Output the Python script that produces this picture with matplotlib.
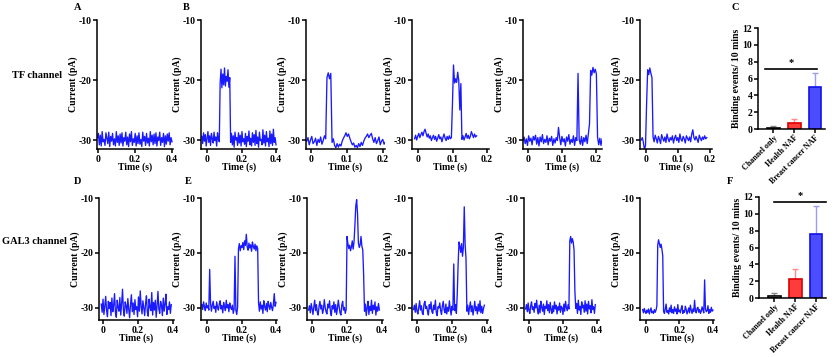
import numpy as np
import matplotlib.pyplot as plt

plt.rcParams['font.family'] = ['Liberation Serif', 'DejaVu Serif']
plt.rcParams['font.weight'] = 'bold'
plt.rcParams['axes.labelweight'] = 'bold'
plt.rcParams['axes.unicode_minus'] = False

# ---- current traces (pA), evenly sampled between t_start and t_end ----
# TF channel
trace_A = [-29.6, -28.9, -30.8, -29.2, -31.0, -28.6, -30.3, -29.9, -30.9, -28.8,
           -29.7, -30.6, -28.7, -31.1, -29.4, -30.2, -28.9, -30.8, -29.8, -31.0,
           -28.6, -30.4, -29.3, -30.9, -29.0, -30.5, -28.8, -31.0, -29.6, -30.2,
           -28.7, -30.8, -29.5, -31.1, -29.0, -30.3, -28.6, -30.9, -29.8, -30.4,
           -28.9, -31.0, -29.3, -30.6, -28.8, -30.7, -29.9, -31.1, -28.7, -30.2,
           -29.4, -30.9, -28.9, -30.5, -29.7, -31.0, -28.6, -30.3, -29.2, -30.8,
           -29.0, -30.6, -28.8, -31.0, -29.5, -30.1, -28.7, -30.9, -29.6, -30.4,
           -28.9, -31.1, -29.3, -30.7, -29.0, -30.2, -28.8, -30.8, -29.6, -30.3]
trace_B1 = [-29.4, -30.6, -28.8, -30.2, -29.1, -31.0, -29.7, -28.6, -30.4, -29.3,
            -30.9, -28.9, -29.8, -30.5, -28.7, -30.1, -29.5, -31.0, -28.8, -29.9, -30.3,
            -20.5, -18.2, -21.3, -19.0, -20.8, -18.0, -21.0, -19.4, -20.2, -18.3, -21.2, -19.6,
            -30.4, -28.9, -30.8, -29.3, -31.2, -28.7, -30.0, -29.6, -30.9, -28.8,
            -30.5, -29.2, -31.0, -28.6, -30.3, -29.8, -30.7, -28.9, -31.1, -29.4,
            -30.2, -28.5, -30.8, -29.7, -31.0, -28.8, -30.4, -29.1, -30.9, -28.4,
            -30.6, -29.5, -31.2, -28.7, -30.1, -29.9, -30.8, -28.3, -30.5, -29.2,
            -31.0, -28.6, -30.3, -29.7, -31.1, -28.5, -30.6, -29.0, -30.9, -28.2,
            -30.4, -29.6, -30.8]
trace_B2 = [-30.2, -29.6, -30.8, -30.0, -29.4, -30.6, -30.3, -29.7, -30.9, -29.9,
            -30.4, -29.5, -30.7, -30.1, -29.3, -29.8,
            -19.6, -18.8, -19.8, -18.9,
            -30.4, -29.8, -30.9, -31.3, -30.6, -31.2, -30.7, -31.0, -30.2, -29.7,
            -29.3, -28.8, -29.4, -29.0, -29.7, -30.3, -30.8, -30.5, -31.2, -30.9,
            -31.3, -30.6, -31.1, -30.4, -30.9, -30.2, -29.7, -29.4, -29.0, -29.6,
            -29.2, -28.9, -29.8, -30.4, -29.6, -30.6, -30.1, -29.5, -30.8, -30.2,
            -29.9, -30.7, -30.3, -30.6]
trace_B3 = [-29.8, -29.2, -30.0, -29.4, -28.9, -29.6, -29.1, -28.7, -29.3, -28.6,
            -28.2, -28.9, -29.5, -29.0, -29.7, -29.3, -30.1, -29.6, -29.2, -29.9,
            -29.4, -30.2, -29.7, -29.1, -29.8, -29.5, -30.3, -29.6, -29.0, -29.7,
            -30.1, -29.4, -29.9, -29.3, -29.8, -29.6,
            -24.0, -17.5, -20.5, -19.8, -20.4, -18.7, -20.1, -25.0, -20.6,
            -29.9, -29.3, -30.0, -29.5, -28.9, -29.7, -29.2, -29.8, -29.4, -28.6,
            -29.1, -29.6, -29.0, -29.5, -29.3]
trace_B4 = [-30.1, -29.5, -30.6, -29.8, -30.9, -29.3, -30.2, -29.7, -30.8, -29.4,
            -30.0, -29.2, -30.7, -29.6, -31.0, -29.5, -30.3, -29.1, -30.6, -29.9,
            -30.4, -29.3, -30.8, -29.7, -30.2, -29.4, -30.9, -29.8, -30.5, -29.6,
            -30.1, -27.9,
            -29.6, -30.8, -29.4, -30.3, -29.8, -31.0, -29.5, -30.2, -29.1, -30.7,
            -29.9, -30.4, -29.3, -30.9, -29.6, -30.1, -18.9,
            -29.9, -30.7, -29.4, -30.9, -29.6, -30.3, -29.2, -30.6, -29.0, -27.3,
            -18.4, -19.2, -17.9, -18.8, -18.2, -19.0,
            -29.5, -30.8, -29.7, -30.9, -29.8]
trace_B5 = [-30.0, -29.6, -30.4, -31.6, -30.9, -24.0,
            -18.3, -19.1, -18.0, -18.9, -19.6,
            -29.5, -30.3, -29.2, -29.8, -30.5, -29.4, -29.9, -30.6, -29.1, -29.7,
            -30.2, -29.5, -30.4, -29.0, -29.8, -30.3, -29.6, -30.0, -29.3, -30.5,
            -29.7, -29.2, -30.1, -29.6, -30.4, -29.0, -29.9, -30.2, -29.4, -29.8,
            -30.5, -29.3, -29.7, -30.1, -29.5, -30.3, -29.0, -28.3, -29.6, -30.0,
            -29.4, -29.9, -30.4, -29.2, -29.7, -30.1, -29.5, -29.9, -29.3, -29.8, -29.6]

# GAL3 channel
trace_D = [-29.3, -30.8, -28.4, -31.2, -29.7, -27.9, -30.5, -31.6, -28.8, -30.1,
           -29.0, -31.4, -28.2, -30.7, -29.5, -27.4, -30.9, -31.7, -28.6, -29.9,
           -30.6, -28.1, -31.3, -29.2, -26.6, -30.4, -31.5, -28.9, -29.6, -31.0,
           -28.3, -30.2, -31.8, -29.4, -27.6, -30.7, -29.1, -31.2, -28.5, -30.3,
           -29.8, -31.6, -28.0, -30.6, -26.9, -29.7, -31.1, -28.7, -30.0, -31.4,
           -29.2, -27.8, -30.8, -31.5, -28.4, -29.9, -30.5, -27.2, -31.3, -29.0,
           -30.4, -28.6, -31.7, -29.6, -27.0, -30.2, -31.0, -28.8, -29.5, -31.4,
           -28.2, -30.6, -29.3, -27.5, -31.2, -29.8, -30.3, -28.9, -31.0, -29.4]
trace_E1 = [-29.4, -30.3, -28.9, -29.8, -30.5, -29.1, -30.0, -29.6, -30.4, -23.0,
            -29.2, -30.6, -29.5, -28.8, -30.1, -29.7, -30.8, -28.9, -29.9, -30.4,
            -29.3, -28.7, -30.2, -29.6, -30.9, -29.0, -29.8, -30.5, -28.6, -30.0,
            -29.4, -30.7, -29.1, -29.9, -30.3, -29.5, -31.0, -30.2, -20.6,
            -30.4, -31.2, -29.8,
            -19.2, -18.3, -19.6, -18.7, -19.0, -18.1, -19.4, -17.8, -18.6, -16.6,
            -18.9, -19.5, -18.2, -19.1, -18.5, -19.7, -18.0, -18.8, -19.3, -18.4,
            -19.6, -18.7, -19.2,
            -29.1, -30.6, -28.9, -30.2, -29.5, -31.0, -28.7, -29.8, -30.4, -29.2,
            -30.7, -28.8, -29.6, -30.3, -29.0, -29.9, -30.5, -29.3, -27.4, -29.7, -29.0]
trace_E2 = [-30.4, -29.6, -30.9, -29.2, -30.1, -31.2, -29.8, -28.6, -30.5, -29.4,
            -30.8, -31.3, -29.7, -28.8, -30.2, -29.5, -31.0, -30.3, -28.5, -29.9,
            -30.7, -31.1, -29.3, -30.0, -28.7, -30.6, -31.4, -29.6, -30.2, -28.9,
            -30.8, -29.4, -31.2, -30.1, -28.6, -29.8, -30.9, -31.3, -29.5, -28.8,
            -30.4, -29.9, -31.0, -30.3,
            -17.0, -18.3, -19.2, -18.6, -19.6, -18.9, -17.8, -19.3, -18.0, -15.0,
            -11.5, -10.3, -12.8, -18.2, -19.0, -18.5, -17.0, -18.8, -19.4, -24.0,
            -30.6, -29.3, -31.4, -30.0, -28.8, -31.2, -29.7, -30.5, -28.6, -31.0,
            -29.5, -30.3, -28.9, -31.3, -29.8, -30.6, -29.2, -30.4]
trace_E3 = [-30.3, -29.5, -30.8, -29.2, -30.6, -31.1, -29.9, -28.7, -30.4, -29.6,
            -30.9, -31.2, -29.3, -28.8, -30.1, -29.7, -30.6, -31.3, -29.4, -30.2,
            -28.9, -30.7, -31.0, -29.5, -30.3, -28.6, -30.8, -31.4, -29.8, -30.0,
            -29.1, -30.5, -31.2, -29.6, -28.8, -30.4, -30.9, -29.3, -31.1, -29.9,
            -30.6, -28.7, -30.2, -31.3, -29.7, -30.4, -22.0,
            -30.5, -29.4, -31.0, -27.5,
            -22.0, -18.0, -18.8, -19.9, -18.3, -20.6, -19.0, -11.6, -18.4,
            -21.0, -30.6, -29.5, -31.2, -30.0, -28.9, -30.7, -29.6, -31.3, -30.2,
            -28.8, -30.5, -29.8, -31.1, -29.3, -30.6, -28.7, -30.9, -29.7, -31.0,
            -30.1, -29.5]
trace_E4 = [-30.2, -29.4, -30.7, -29.1, -30.5, -31.0, -29.6, -28.9, -30.3, -29.8,
            -30.8, -29.2, -30.0, -28.6, -30.4, -31.1, -29.5, -30.9, -28.8, -29.9,
            -30.6, -29.3, -31.2, -29.7, -30.1, -28.7, -30.5, -29.4, -30.9, -29.0,
            -30.3, -31.0, -29.6, -30.7, -28.9, -30.2, -29.5, -31.1, -29.8, -30.4,
            -29.1, -30.8, -29.7, -30.0, -31.2, -29.3, -30.6, -28.8, -29.9, -30.5,
            -29.4, -30.2,
            -17.8, -17.0, -18.2, -17.4, -18.0, -19.5,
            -27.0, -30.1, -29.2, -31.0, -28.6, -30.4, -29.7, -31.2, -28.9, -30.0,
            -29.5, -30.8, -28.7, -30.6, -29.3, -31.1, -28.8, -30.2, -29.6, -30.9,
            -28.5, -30.3, -29.8, -31.0, -29.4]
trace_E5 = [-30.3, -30.9, -30.1, -30.7, -31.0, -30.4, -30.8, -30.2, -31.1, -30.5,
            -30.0, -30.9, -30.6, -31.0, -30.3, -30.8, -30.4, -29.6,
            -18.6, -17.6, -18.3, -19.0, -18.4, -19.3, -20.5,
            -30.6, -31.0, -30.2, -29.3, -30.8, -30.5, -31.1, -30.0, -30.7, -29.5,
            -30.9, -30.3, -31.0, -29.8, -30.6, -30.2, -31.1, -29.4, -30.7, -30.4,
            -30.9, -30.1, -29.6, -31.0, -30.5, -30.8, -29.7, -30.3, -31.1, -30.6,
            -30.0, -30.9, -29.5, -30.4, -31.0, -30.2, -30.7, -28.6, -30.5, -30.9,
            -30.1, -29.9, -30.8, -30.3, -31.0, -30.6, -29.8, -30.4, -30.9, -24.9,
            -30.2, -30.7, -30.5, -29.6, -31.0, -30.3, -30.8, -29.9, -30.6, -30.4]

# recording window (s) of every trace: start, end
span_A = (-0.003, 0.40)
span_B1 = (-0.030, 0.40)
span_B2 = (-0.012, 0.21)
span_B3 = (-0.010, 0.17)
span_B4 = (-0.015, 0.218)
span_B5 = (-0.015, 0.19)
span_D = (-0.010, 0.39)
span_E1 = (-0.030, 0.40)
span_E2 = (-0.020, 0.385)
span_E3 = (-0.020, 0.385)
span_E4 = (-0.020, 0.39)
span_E5 = (-0.020, 0.40)

# ---- binding events per 10 min ----
groups = ['Channel only', 'Health NAF', 'Breast cancer NAF']
tf_mean = [0.15, 0.75, 5.0]
tf_err = [0.15, 0.45, 1.7]
gal3_mean = [0.2, 2.3, 7.6]
gal3_err = [0.45, 1.2, 3.3]

ticks_long = [0, 0.2, 0.4]
labels_long = ['0', '0.2', '0.4']
ticks_short = [0, 0.1, 0.2]
labels_short = ['0', '0.1', '0.2']
yticks_trace = [-10, -20, -30]

W, H = 835, 357
fig = plt.figure(figsize=(W / 100, H / 100), dpi=100)

TRACE_COLOR = '#1a1aff'
FS = 7


def px_axes(x0, x1, y0, y1):
    return fig.add_axes([x0 / W, 1 - y1 / H, (x1 - x0) / W, (y1 - y0) / H])


def style(ax, size=FS):
    for s in ['top', 'right']:
        ax.spines[s].set_visible(False)
    for s in ['left', 'bottom']:
        ax.spines[s].set_linewidth(1.1)
    ax.tick_params(direction='out', length=3, width=1.1, labelsize=size, pad=1.2)


def trace_panel(box, ylim, values, span, xlim, ticks, labels):
    ax = px_axes(*box)
    t = np.linspace(span[0], span[1], len(values))
    ax.plot(t, values, color=TRACE_COLOR, lw=0.95)
    ax.set_xlim(*xlim)
    ax.set_ylim(*ylim)
    ax.set_xticks(ticks, labels)
    ax.set_yticks(yticks_trace)
    ax.set_xlabel('Time (s)', fontsize=FS, labelpad=-1)
    ax.set_ylabel('Current (pA)', fontsize=FS, labelpad=0)
    style(ax)
    return ax


top_y = (20, 149)
top_lim = (-31.5, -10)
bot_y = (198, 320)
bot_lim = (-32.2, -10)

# top row: TF channel
trace_panel((97, 173) + top_y, top_lim, trace_A, span_A, (-0.0054, 0.4054), ticks_long, labels_long)
trace_panel((201, 277) + top_y, top_lim, trace_B1, span_B1, (-0.0348, 0.4058), ticks_long, labels_long)
trace_panel((306, 385) + top_y, top_lim, trace_B2, span_B2, (-0.0139, 0.2056), ticks_short, labels_short)
trace_panel((412, 489) + top_y, top_lim, trace_B3, span_B3, (-0.0174, 0.2058), ticks_short, labels_short)
trace_panel((523, 602) + top_y, top_lim, trace_B4, span_B4, (-0.0147, 0.2176), ticks_short, labels_short)
trace_panel((640, 712) + top_y, top_lim, trace_B5, span_B5, (-0.0188, 0.2063), ticks_short, labels_short)

# bottom row: GAL3 channel
trace_panel((99, 174) + bot_y, bot_lim, trace_D, span_D, (-0.0229, 0.4057), ticks_long, labels_long)
trace_panel((201, 277) + bot_y, bot_lim, trace_E1, span_E1, (-0.0348, 0.4058), ticks_long, labels_long)
trace_panel((307, 383) + bot_y, bot_lim, trace_E2, span_E2, (-0.029, 0.4058), ticks_long, labels_long)
trace_panel((412, 488) + bot_y, bot_lim, trace_E3, span_E3, (-0.0286, 0.4057), ticks_long, labels_long)
trace_panel((524, 599) + bot_y, bot_lim, trace_E4, span_E4, (-0.0294, 0.4118), ticks_long, labels_long)
trace_panel((640, 714) + bot_y, bot_lim, trace_E5, span_E5, (-0.0358, 0.406), ticks_long, labels_long)

# bar charts
fills = ['white', '#ff3c3c', '#4c4cff']
edges = ['black', '#dd0000', '#1212e6']
errc = ['#888888', '#ff8a8a', '#9c9cff']


def bar_panel(box, means, errs, sig_y, sig_x):
    ax = px_axes(*box)
    x = np.arange(len(groups))
    for i in range(len(groups)):
        ax.bar(x[i], means[i], width=0.62, color=fills[i], edgecolor=edges[i], linewidth=1.2, zorder=2)
        ax.errorbar(x[i], means[i], yerr=[[0], [errs[i]]], color=errc[i], capsize=2.5,
                    elinewidth=1.0, capthick=1.0, zorder=1)
    ax.plot(sig_x, [sig_y, sig_y], color='black', lw=1.2, clip_on=False)
    ax.text(np.mean(sig_x), sig_y + 0.25, '*', ha='center', va='bottom', fontsize=7.5)
    ax.set_xlim(-0.74, 2.48)
    ax.set_ylim(0, 12)
    ax.set_yticks(range(0, 13, 2))
    ax.set_xticks(x, groups)
    ax.set_ylabel('Binding events/ 10 mins', fontsize=FS, labelpad=1)
    style(ax, size=7)
    ax.tick_params(axis='x', pad=0.5)
    for lab in ax.get_xticklabels():
        lab.set_rotation(45)
        lab.set_ha('right')
        lab.set_rotation_mode('anchor')
        lab.set_fontsize(5.8)
    return ax


bar_panel((758, 825, 28, 129), tf_mean, tf_err, 7.1, [-0.4, 2.1])
bar_panel((759, 826, 197, 298), gal3_mean, gal3_err, 11.4, [0.0, 2.5])

# panel letters and row titles
for letter, x, y in [('A', 78, 7), ('B', 186, 7), ('C', 735, 7),
                     ('D', 78, 181), ('E', 188, 181), ('F', 730, 181)]:
    fig.text(x / W, 1 - y / H, letter, fontsize=7.5, ha='center', va='center')
fig.text(37 / W, 1 - 75 / H, 'TF channel', fontsize=7.5, ha='center', va='center')
fig.text(34 / W, 1 - 242 / H, 'GAL3 channel', fontsize=7.5, ha='center', va='center')

fig.savefig('out.png', dpi=100)
